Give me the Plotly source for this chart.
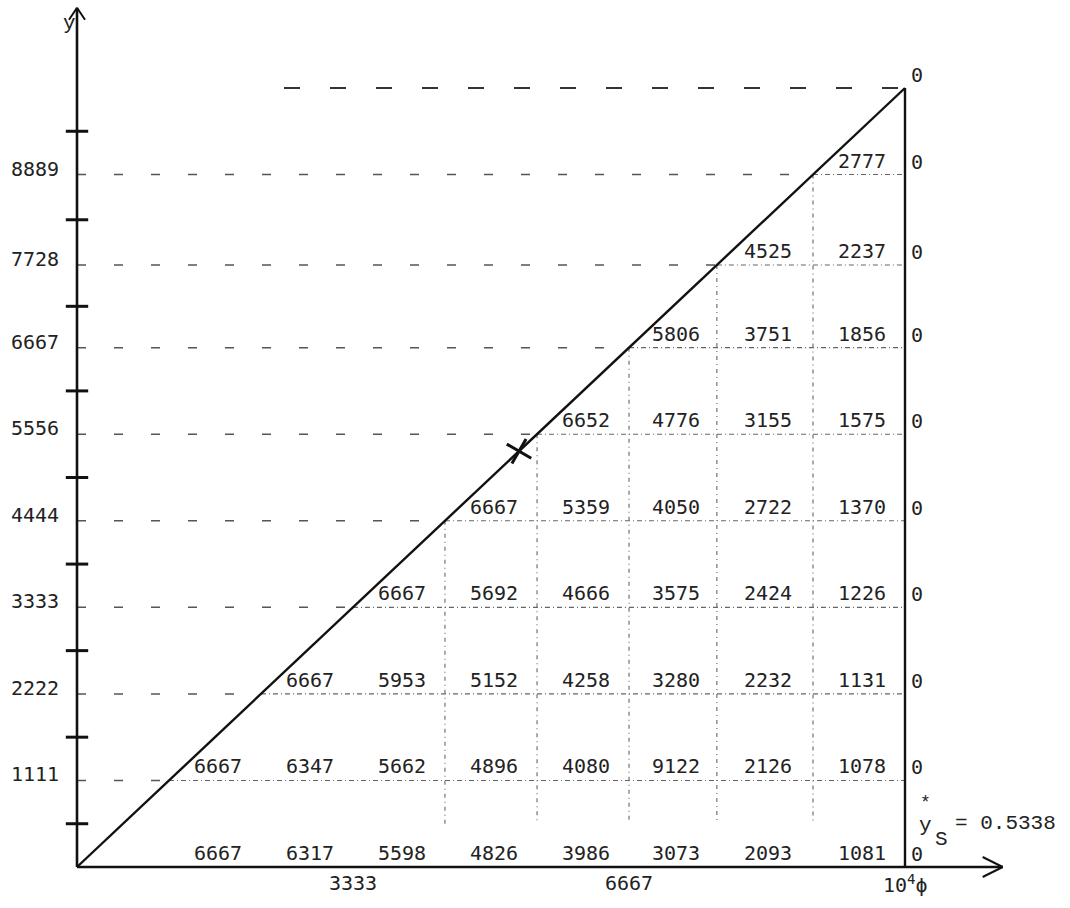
import plotly.graph_objects as go

# Grid levels on both axes (10^4 * phi on x, 10^4 * y on y)
levels = [0, 1111, 2222, 3333, 4444, 5556, 6667, 7728, 8889, 10000]
y_tick_text = ["1111", "2222", "3333", "4444", "5556", "6667", "7728", "8889"]
x_tick_vals = [3333, 6667, 10000]
x_tick_text = ["3333", "6667", "10<sup>4</sup>ϕ"]

# Table entries, one list per band (bottom band first), filled from the right edge
row_0 = [6667, 6317, 5598, 4826, 3986, 3073, 2093, 1081]
row_1 = [6667, 6347, 5662, 4896, 4080, 9122, 2126, 1078]
row_2 = [6667, 5953, 5152, 4258, 3280, 2232, 1131]
row_3 = [6667, 5692, 4666, 3575, 2424, 1226]
row_4 = [6667, 5359, 4050, 2722, 1370]
row_5 = [6652, 4776, 3155, 1575]
row_6 = [5806, 3751, 1856]
row_7 = [4525, 2237]
row_8 = [2777]
rows = [row_0, row_1, row_2, row_3, row_4, row_5, row_6, row_7, row_8]

# Values on the right boundary phi = 1
boundary_values = [0, 0, 0, 0, 0, 0, 0, 0, 0, 0]

# Singular point on the diagonal
y_s_star = 0.5338

# ---- layout constants ----
W, H = 1070, 908
X0_PX, X1_PX = 77, 905
Y0_PX, Y1_PX = 867, 88
sx = (X1_PX - X0_PX) / 10000.0
sy = (Y0_PX - Y1_PX) / 10000.0
x_range = [-X0_PX / sx, (W - X0_PX) / sx]
y_range = [-(H - Y0_PX) / sy, Y0_PX / sy]
x_axis_end = 11180
y_axis_end = 11030
top_rule_start = 2500
first_vertical = 4
num_font = dict(family="DejaVu Sans Mono", size=20, color="#222")
type_font = dict(family="Liberation Mono", size=21, color="#222")
INK = "#111"

fig = go.Figure()


def segs(pairs):
    xs, ys = [], []
    for (xa, ya), (xb, yb) in pairs:
        xs += [xa, xb, None]
        ys += [ya, yb, None]
    return xs, ys


def add_lines(pairs, color, width, dash="solid"):
    xs, ys = segs(pairs)
    fig.add_trace(go.Scatter(x=xs, y=ys, mode="lines", hoverinfo="skip",
                             line=dict(color=color, width=width, dash=dash)))


inner = levels[1:-1]

# dashed rules from the y axis to the diagonal
add_lines([((0, L), (L, L)) for L in inner], "#555", 1.5, "9px,28px")
# dashed rule at the top level
add_lines([((top_rule_start, levels[-1]), (levels[-1], levels[-1]))], "#333", 1.8, "16px,30px")
# dash-dot rules from the diagonal to the right boundary
add_lines([((L, L), (levels[-1], L)) for L in inner], "#666", 1.1, "5px,3px,1px,3px")
# dash-dot verticals hanging from the diagonal
v_bottom = levels[1] / 2
add_lines([((L, L), (L, v_bottom)) for L in levels[first_vertical:-1]], "#666", 1.1, "4px,4px,1px,4px")

# axes, diagonal and right boundary
add_lines([((0, 0), (x_axis_end, 0)), ((0, 0), (0, y_axis_end))], INK, 2.6)
add_lines([((0, 0), (levels[-1], levels[-1])), ((levels[-1], 0), (levels[-1], levels[-1]))], INK, 2.4)

# arrow heads
ax_len, ax_half = 20 / sx, 10 / sy
ay_len, ay_half = 12 / sy, 8 / sx
add_lines([((x_axis_end - ax_len, ax_half), (x_axis_end, 0)),
           ((x_axis_end - ax_len, -ax_half), (x_axis_end, 0)),
           ((-ay_half, y_axis_end - ay_len), (0, y_axis_end)),
           ((ay_half, y_axis_end - ay_len), (0, y_axis_end))], INK, 2.0)

# tick crosses on the y axis, halfway between levels
mids = [(levels[i] + levels[i + 1]) / 2 for i in range(len(levels) - 1)]
fig.add_trace(go.Scatter(x=[0] * len(mids), y=mids, mode="markers", hoverinfo="skip",
                         marker=dict(symbol="line-ew-open", size=16, color=INK,
                                     line=dict(color=INK, width=3))))

# singular point marker
fig.add_trace(go.Scatter(x=[y_s_star * 10000], y=[y_s_star * 10000], mode="markers",
                         hoverinfo="skip",
                         marker=dict(symbol="x-thin-open", size=20, angle=-15, color=INK,
                                     line=dict(color=INK, width=3))))

ann = []

# table entries centred in their cells
n_cells = len(levels) - 1
for k, vals in enumerate(rows):
    start = n_cells - len(vals) + 1
    for i, v in enumerate(vals):
        j = start + i
        cx = (levels[j - 1] + levels[j]) / 2
        ann.append(dict(x=cx, y=levels[k], text=str(v), showarrow=False,
                        xanchor="center", yanchor="bottom", xshift=3, yshift=0, font=num_font))

# boundary values
for L, v in zip(levels, boundary_values):
    ann.append(dict(x=levels[-1], y=L, text=str(v), showarrow=False,
                    xanchor="left", yanchor="bottom", xshift=4, yshift=-1, font=num_font))

# y axis labels
for L, t in zip(inner, y_tick_text):
    ann.append(dict(x=0, y=L, text=t, showarrow=False, xanchor="right",
                    yanchor="middle", xshift=-16, yshift=6, font=num_font))

# x axis labels
for v, t in zip(x_tick_vals, x_tick_text):
    ann.append(dict(x=v, y=0, text=t, showarrow=False, xanchor="center",
                    yanchor="top", yshift=-2, font=num_font))

# axis name
ann.append(dict(x=0, y=y_axis_end, text="y", showarrow=False, xanchor="right",
                yanchor="top", xshift=1, yshift=-2, font=type_font))

# y*_S annotation
ann.append(dict(x=levels[-1], y=0, text="y", showarrow=False, xanchor="center",
                yanchor="middle", xshift=20, yshift=42, font=type_font))
ann.append(dict(x=levels[-1], y=0, text="*", showarrow=False, xanchor="center",
                yanchor="middle", xshift=20, yshift=64,
                font=dict(family="Liberation Mono", size=18, color="#222")))
ann.append(dict(x=levels[-1], y=0, text="S", showarrow=False, xanchor="center",
                yanchor="middle", xshift=36, yshift=28, font=type_font))
ann.append(dict(x=levels[-1], y=0, text=f"= {y_s_star:.4f}", showarrow=False,
                xanchor="left", yanchor="middle", xshift=48, yshift=44, font=type_font))

fig.update_layout(
    width=W, height=H,
    margin=dict(l=0, r=0, t=0, b=0),
    paper_bgcolor="white", plot_bgcolor="white",
    showlegend=False,
    xaxis=dict(range=x_range, visible=False, fixedrange=True),
    yaxis=dict(range=y_range, visible=False, fixedrange=True),
    annotations=ann,
)

fig.write_html("out.html")
